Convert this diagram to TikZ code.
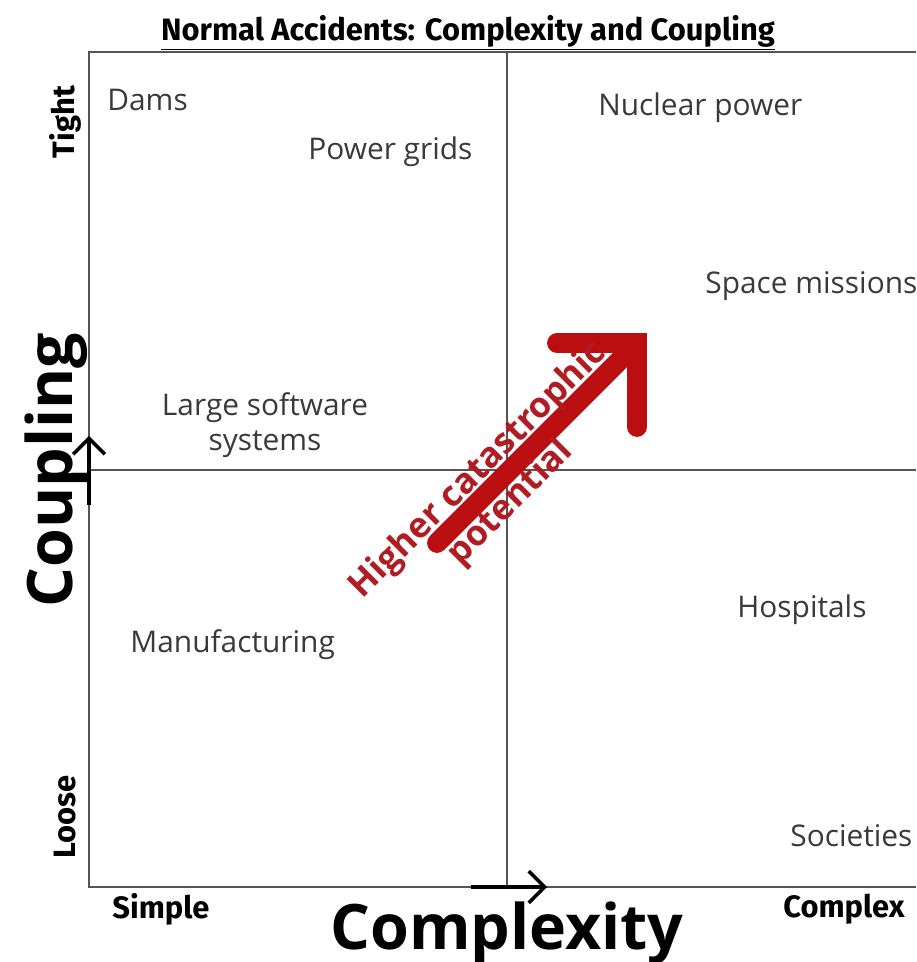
\documentclass[tikz,border=0pt]{standalone}
\usepackage{fontspec}
\setmainfont{Open Sans}
\newfontfamily\headfont{Fira Sans}
\usetikzlibrary{arrows.meta}
\definecolor{gridgray}{HTML}{555555}
\definecolor{labelgray}{HTML}{3A3A3A}
\definecolor{riskred}{HTML}{BB0E10}
\definecolor{risktext}{HTML}{B01C22}
\tikzset{
  lbl/.style={font=\fontsize{17}{20}\selectfont, text=labelgray, inner sep=0pt},
  endlbl/.style={font=\headfont\bfseries\fontsize{17.6}{20}\selectfont, inner sep=0pt},
  axlbl/.style={font=\bfseries\fontsize{35.7}{40}\selectfont, inner sep=0pt},
  axarrow/.style={line width=2pt, -{Straight Barb[length=9pt, width=18pt, line width=2pt]}}
}

\begin{document}
\begin{tikzpicture}[x=0.02cm, y=0.02cm]
  \useasboundingbox (0,0) rectangle (916,962);
  % --- frame and quadrants ---
  \coordinate (tl) at (89,910);
  \coordinate (bl) at (89,75);
  \coordinate (tr) at (916,910);
  \coordinate (br) at (916,75);
  \coordinate (midtop) at (507,910);
  \coordinate (midbot) at (507,75);
  \coordinate (midleft) at (89,492);
  \coordinate (midright) at (916,492);
  \draw[gridgray, line width=1.2pt] (tr) -- (tl) -- (bl) -- (br);
  \draw[gridgray, line width=1.1pt] (midtop) -- (midbot);
  \draw[gridgray, line width=1.1pt] (midleft) -- (midright);
  % --- title ---
  \node[font=\headfont\bfseries\fontsize{17.6}{20}\selectfont, inner sep=0pt] (title) at (468,929)
    {\underline{Normal Accidents: Complexity and Coupling}};
  % --- systems ---
  \node[lbl, anchor=west] (dams) at (107,862) {Dams};
  \node[lbl, anchor=west] (grids) at (308,810) {Power grids};
  \node[lbl, anchor=west] (nuclear) at (598,854) {Nuclear power};
  \node[lbl, anchor=west] (space) at (705,676) {Space missions};
  \node[lbl, align=center] (software) at (265,537) {Large software\\systems};
  \node[lbl, anchor=west] (manuf) at (130,317) {Manufacturing};
  \node[lbl, anchor=west] (hosp) at (737,352) {Hospitals};
  \node[lbl, anchor=west] (soc) at (790,126) {Societies};
  % --- axis ends ---
  \node[endlbl, rotate=90] (tight) at (65,840) {Tight};
  \node[endlbl, rotate=90] (loose) at (65,145) {Loose};
  \node[endlbl, anchor=west] (simple) at (112,53) {Simple};
  \node[endlbl, anchor=west] (complex) at (783,53) {Complex};
  % --- axis names ---
  \node[axlbl, anchor=base] (xname) at (507,12) {Complexity};
  \node[axlbl, anchor=base, rotate=90] (yname) at (72,492) {Coupling};
  \coordinate (cup0) at (89,457);
  \coordinate (cup1) at (89,526);
  \draw[axarrow] (cup0) -- (cup1);
  \coordinate (cx0) at (471,75);
  \coordinate (cx1) at (547,75);
  \draw[axarrow] (cx0) -- (cx1);
  % --- risk arrow ---
  \coordinate (rtail) at (437,419);
  \coordinate (rtip) at (637,619);
  \coordinate (rleft) at (557,619);
  \coordinate (rdown) at (637,535);
  \draw[riskred, line width=11.3pt, line cap=round] (rtail) -- (rtip);
  \draw[riskred, line width=11.3pt, line cap=round, line join=miter] (rleft) -- (rtip) -- (rdown);
  \node[font=\bfseries\fontsize{20}{26}\selectfont, text=risktext, align=center, rotate=45, inner sep=0pt] (risk) at (495,475)
    {Higher catastrophic\\potential};
\end{tikzpicture}
\end{document}
